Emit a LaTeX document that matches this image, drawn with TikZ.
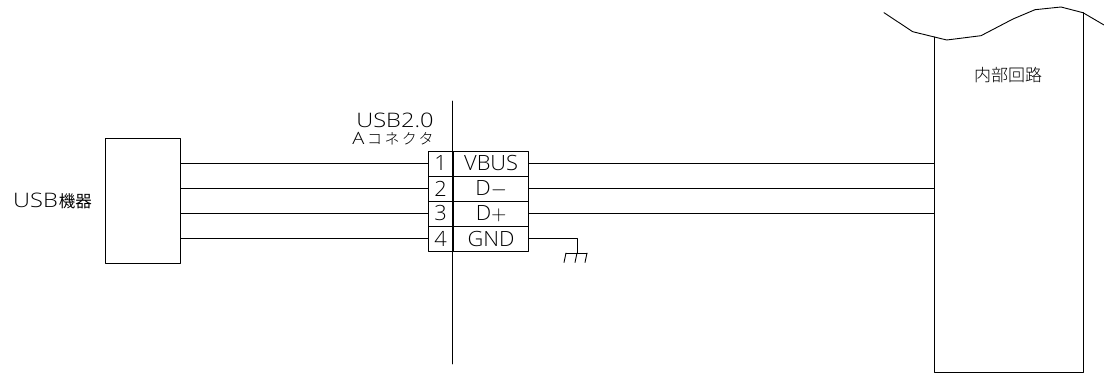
\documentclass[tikz,border=0pt]{standalone}
\usepackage{fontspec}
\setmainfont{Open Sans Light}[FakeStretch=1.18]
\newfontfamily\cellfont{Open Sans Light}[FakeStretch=1.04]
\newfontfamily\jpfont{Noto Sans CJK JP Light}
\newfontfamily\jpheavyfont{Noto Sans CJK JP}
\newfontfamily\jpwidefont{Noto Sans CJK JP Light}[LetterSpace=16]
\usetikzlibrary{positioning}
\tikzset{
		>=stealth,
		wire/.style={line width=0.9pt, line cap=round, line join=round},
		cell/.style={draw, wire, minimum height=25pt, inner sep=0pt, font=\cellfont\fontsize{21}{21}\selectfont},
		pincell/.style={cell, minimum width=25pt},
		sigcell/.style={cell, minimum width=74.5pt}
	}
\begin{document}
\begin{tikzpicture}[x=1pt, y=-1pt]
		\useasboundingbox (0,0) rectangle (1104,374);
		% usb device
		\node[draw, wire, minimum width=74.5pt, minimum height=125pt, inner sep=0pt] (device) at (143,200.5) {};
		\node[font=\fontsize{20}{20}\selectfont, inner sep=0pt] (devicelabel) at (52.5,200.5) {USB\kern1pt{\jpheavyfont\fontsize{16.5}{16.5}\selectfont 機器}};
		% connector
		\foreach \n/\sig/\y in {1/VBUS/163.5, 2/D$-$/188.5, 3/D$+$/213.5, 4/GND/238.5} {
			\node[pincell] (pin\n) at (440.5,\y) {\n};
			\node[sigcell, right=0pt of pin\n] (sig\n) {\sig};
			\draw[wire] (pin\n.west -| device.east) -- (pin\n.west);
		}
		\coordinate (axistop) at (452.7,101);
		\coordinate (axisbot) at (452.7,364);
		\draw[wire] (axistop) -- (axisbot);
		\node[font=\fontsize{20}{20}\selectfont, inner sep=0pt] (usblabel) at (395,120) {USB2.0};
		\node[inner sep=0pt] (typelabel) at (393,139) {\fontsize{17}{17}\selectfont A\,{\jpwidefont\fontsize{15}{15}\selectfont コネクタ}};
		% internal circuit
		\coordinate (coretl) at (934,37);
		\coordinate (corebl) at (934,372);
		\coordinate (corebr) at (1083,372);
		\coordinate (coretr) at (1083,12.7);
		\draw[wire] (coretl) -- (corebl) -- (corebr) -- (coretr);
		\draw[wire] (884,12.7) -- (912.7,31.7) -- (946.7,40) -- (981,35.7) -- (1013,19) -- (1035,9.7) -- (1061,7) -- (1083,12.7) -- (1104,25);
		\node[font=\jpfont\fontsize{17}{17}\selectfont, inner sep=0pt] (corelabel) at (1008,75.5) {内部回路};
		\foreach \n in {1,2,3} {
			\draw[wire] (sig\n.east) -- (sig\n.east -| coretl);
		}
		% ground
		\coordinate (gnd) at (577,253);
		\draw[wire] (sig4.east) -| (gnd);
		\draw[wire] (566,253) -- (587,253);
		\foreach \x in {566,577,587} {
			\draw[wire] (\x,253) -- +(-2,9.5);
		}
	\end{tikzpicture}
\end{document}
